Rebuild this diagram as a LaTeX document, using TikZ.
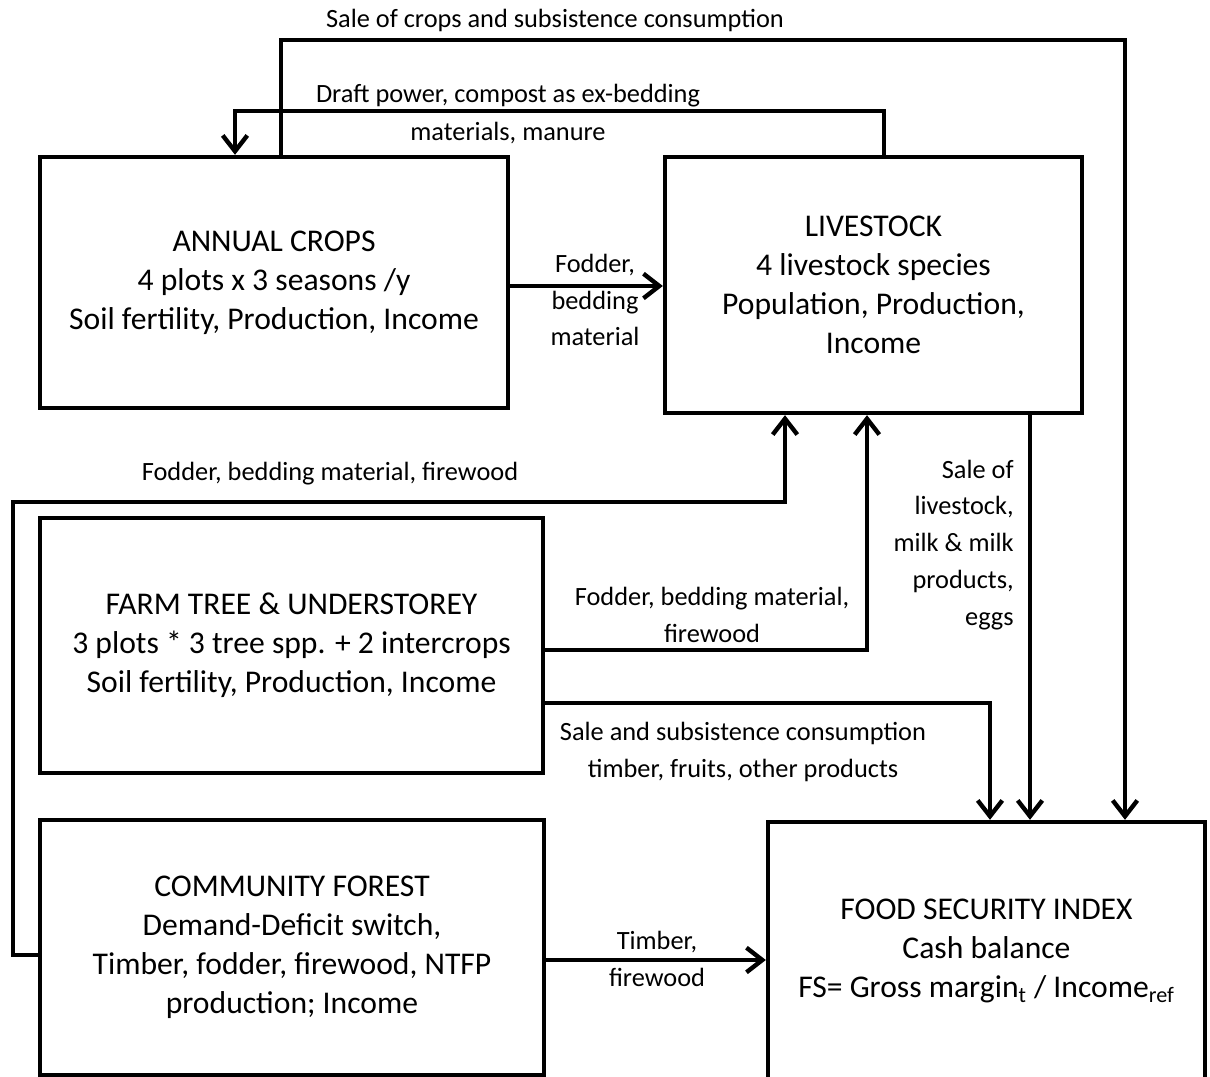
\documentclass[tikz,border=0pt]{standalone}
\usepackage{fontspec}
\setmainfont{Carlito}
\usepackage{tikz}
\usetikzlibrary{arrows.meta, positioning}

\tikzset{
  box/.style={draw, line width=2.5pt, align=center, inner sep=0pt,
    font=\fontsize{18}{22.2}\selectfont},
  lbl/.style={align=center, inner sep=0pt, font=\fontsize{15}{21}\selectfont},
  arr/.style={line width=2.5pt, -{Straight Barb[length=9pt, width=14pt]}}
}

\begin{document}
\begin{tikzpicture}[x=0.02cm, y=-0.02cm]

  \useasboundingbox (0,0) rectangle (1210,1077);

  % boxes
  \node[box, minimum width=9.36cm, minimum height=5.02cm] (crops) at (274,282.5)
  {ANNUAL CROPS\\4 plots x 3 seasons /y\\Soil fertility, Production, Income};

  \node[box, minimum width=8.34cm, minimum height=5.12cm] (livestock) at (873.5,285)
  {LIVESTOCK\\4 livestock species\\Population, Production,\\Income};

  \node[box, minimum width=10.06cm, minimum height=5.1cm] (farmtree) at (291.5,645.5)
  {FARM TREE \& UNDERSTOREY\\3 plots * 3 tree spp. + 2 intercrops\\Soil fertility, Production, Income};

  \node[box, minimum width=10.08cm, minimum height=5.1cm] (forest) at (292,947.5)
  {COMMUNITY FOREST\\Demand-Deficit switch,\\Timber, fodder, firewood, NTFP\\production; Income};

  \node[box, minimum width=8.74cm, minimum height=5.16cm] (fsi) at (986.5,951)
  {FOOD SECURITY INDEX\\Cash balance\\FS= Gross margin\textsubscript{t} / Income\textsubscript{ref}};

  % bend points
  \coordinate (salecrops) at (281,40);
  \coordinate (salecropsend) at (1125,40);
  \coordinate (draftA) at (884,111);
  \coordinate (draftB) at (235,111);
  \coordinate (fodder) at (590,286);
  \coordinate (fwA) at (13,955);
  \coordinate (fwB) at (13,502);
  \coordinate (fwC) at (785,502);
  \coordinate (ftA) at (867,650);
  \coordinate (ftB) at (990,703);
  \coordinate (lsA) at (1030,600);
  \coordinate (tbA) at (656,960);

  % connectors
  \draw[arr] (crops.north -| salecrops) -- (salecrops) -- (salecropsend) -- (fsi.north -| salecropsend);
  \draw[arr] (livestock.north -| draftA) -- (draftA) -- (draftB) -- (crops.north -| draftB);
  \draw[arr] (crops.east |- fodder) -- (livestock.west |- fodder);
  \draw[arr] (forest.west |- fwA) -- (fwA) -- (fwB) -- (fwC) -- (livestock.south -| fwC);
  \draw[arr] (farmtree.east |- ftA) -- (ftA) -- (livestock.south -| ftA);
  \draw[arr] (farmtree.east |- ftB) -- (ftB) -- (fsi.north -| ftB);
  \draw[arr] (livestock.south -| lsA) -- (fsi.north -| lsA);
  \draw[arr] (forest.east |- tbA) -- (fsi.west |- tbA);

  % labels
  \node[lbl] (lsalecrops) at (555,20) {Sale of crops and subsistence consumption};
  \node[lbl] (ldraft) at (508,96) {Draft power, compost as ex-bedding};
  \node[lbl] (ldraftb) at (508,133) {materials, manure};
  \node[lbl] (lfodder) at (595,300) {Fodder,\\bedding\\material};
  \node[lbl] (lforest) at (330,474) {Fodder, bedding material, firewood};
  \node[lbl] (lfarm) at (712,615) {Fodder, bedding material,\\firewood};
  \node[lbl] (lsale) at (743,752) {Sale and subsistence consumption\\timber, fruits, other products};
  \node[lbl, align=right, anchor=east] (lstock) at (1014,545)
  {Sale of\\livestock,\\milk \& milk\\products,\\eggs};
  \node[lbl] (ltimber) at (657,959) {Timber,\\firewood};

\end{tikzpicture}
\end{document}
